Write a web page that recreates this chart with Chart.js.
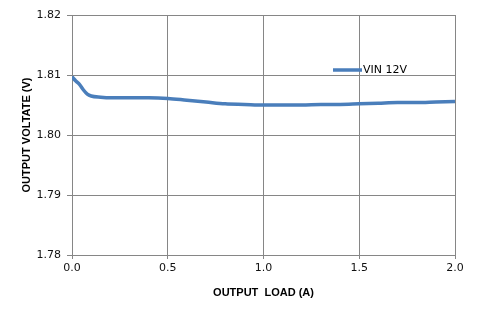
<!DOCTYPE html>
<html>
<head>
<meta charset="utf-8">
<script src="https://cdn.jsdelivr.net/npm/chart.js@4/dist/chart.umd.min.js"></script>
<style>
html,body{margin:0;padding:0;background:#fff;}
#wrap{width:479px;height:317px;position:relative;}
</style>
</head>
<body>
<div id="wrap"><canvas id="c" width="479" height="317"></canvas></div>
<script>
const seriesName = 'VIN 12V';
const loads = [0, 0.02, 0.04, 0.06, 0.08, 0.1, 0.15, 0.2, 0.3, 0.4, 0.5, 0.6, 0.7, 0.8, 0.9, 1.0, 1.1, 1.2, 1.3, 1.4, 1.5, 1.6, 1.7, 1.8, 1.9, 2.0];
const volts = [1.8097, 1.8090, 1.8084, 1.8075, 1.8068, 1.8065, 1.8063, 1.8062, 1.8062, 1.8062, 1.8061, 1.8058, 1.8055, 1.8052, 1.8051, 1.8050, 1.8050, 1.8050, 1.8051, 1.8051, 1.8052, 1.8053, 1.8054, 1.8054, 1.8055, 1.8056];
const xTitle = 'OUTPUT  LOAD (A)';
const yTitle = 'OUTPUT VOLTATE (V)';

const lineColor = '#4A7EBB';
const gridColor = '#868686';
const tickFont = {family: 'DejaVu Sans', size: 11};
const titleFont = {family: 'Liberation Sans', size: 11, weight: 'bold'};

const legendPlugin = {
  id: 'insideLegend',
  afterDatasetsDraw(chart) {
    const ctx = chart.ctx;
    const x0 = 333, x1 = 362, y = 70;
    ctx.save();
    ctx.strokeStyle = lineColor;
    ctx.lineWidth = 3.5;
    ctx.lineCap = 'butt';
    ctx.beginPath();
    ctx.moveTo(x0, y);
    ctx.lineTo(x1, y);
    ctx.stroke();
    ctx.fillStyle = '#000';
    ctx.font = '11px "DejaVu Sans"';
    ctx.textBaseline = 'middle';
    ctx.textAlign = 'left';
    ctx.fillText(seriesName, x1 + 1, y);
    ctx.restore();
  }
};

new Chart(document.getElementById('c'), {
  type: 'line',
  data: {
    datasets: [{
      label: seriesName,
      data: loads.map((x, i) => ({x: x, y: volts[i]})),
      borderColor: lineColor,
      backgroundColor: lineColor,
      borderWidth: 3.5,
      pointRadius: 0,
      cubicInterpolationMode: 'monotone',
      fill: false
    }]
  },
  options: {
    responsive: false,
    animation: false,
    events: [],
    layout: {padding: {left: 0, right: 24, top: 15, bottom: 0}},
    plugins: {legend: {display: false}, tooltip: {enabled: false}},
    scales: {
      x: {
        type: 'linear',
        min: 0, max: 2,
        ticks: {stepSize: 0.5, color: '#111', font: tickFont, padding: 3, maxRotation: 0,
          callback: v => Number(v).toFixed(1)},
        grid: {color: gridColor, lineWidth: 1, tickLength: 4, drawTicks: true},
        border: {color: gridColor, width: 1},
        title: {display: true, text: xTitle, color: '#000', font: titleFont, padding: {top: 0, bottom: 17.5}},
        afterFit(s) { s.height = 62; }
      },
      y: {
        type: 'linear',
        min: 1.78, max: 1.82,
        ticks: {stepSize: 0.01, color: '#111', font: tickFont, padding: 6,
          callback: v => Number(v).toFixed(2)},
        grid: {color: gridColor, lineWidth: 1, tickLength: 5, drawTicks: true},
        border: {color: gridColor, width: 1},
        title: {display: true, text: yTitle, color: '#000', font: titleFont, padding: {top: 20, bottom: 0}},
        afterFit(s) { s.width = 72; }
      }
    }
  },
  plugins: [legendPlugin]
});
</script>
</body>
</html>
